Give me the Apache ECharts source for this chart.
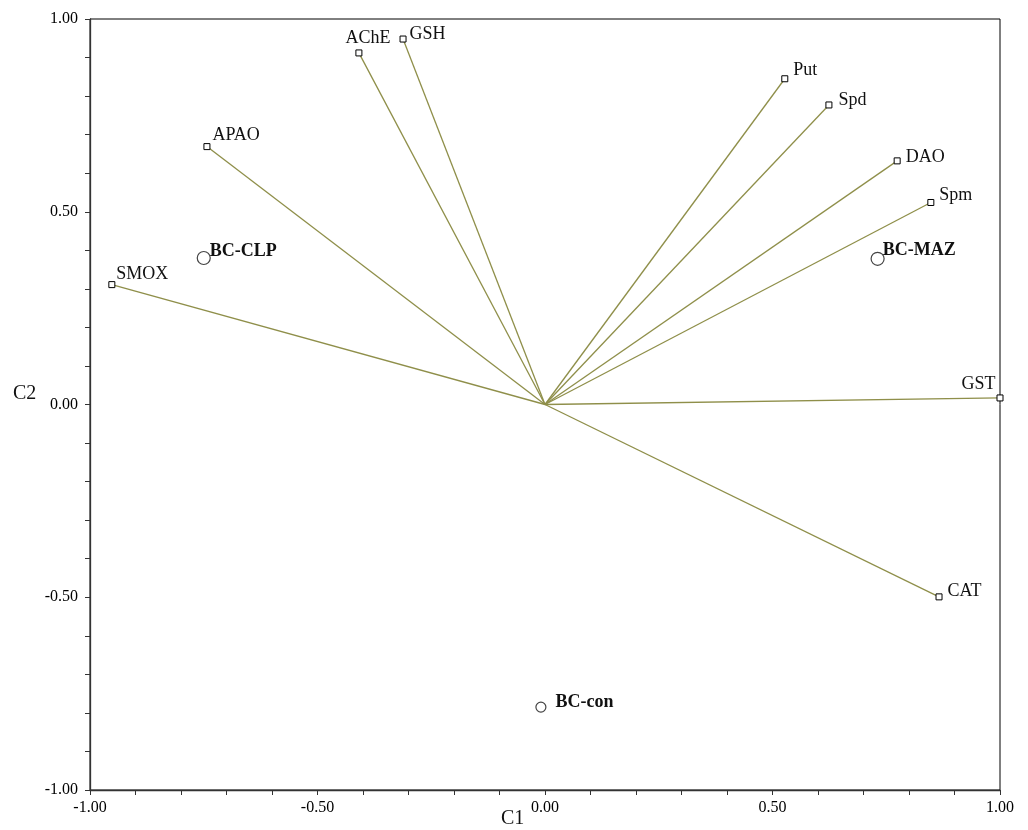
<!DOCTYPE html>
<html>
<head>
<meta charset="utf-8">
<script src="https://cdn.jsdelivr.net/npm/echarts@6/dist/echarts.min.js"></script>
<style>html,body{margin:0;padding:0;background:#fff;}#c{width:1028px;height:830px;}</style>
</head>
<body>
<div id="c"></div>
<script>
// ---- data ----
const varNames = ['AChE', 'GSH', 'Put', 'Spd', 'DAO', 'Spm', 'GST', 'CAT', 'APAO', 'SMOX'];
const varC1 = [-0.409, -0.312, 0.527, 0.624, 0.774, 0.848, 1.000, 0.866, -0.743, -0.952];
const varC2 = [0.912, 0.948, 0.845, 0.777, 0.632, 0.524, 0.017, -0.499, 0.669, 0.311];
const sampleNames = ['BC-CLP', 'BC-MAZ', 'BC-con'];
const sampleC1 = [-0.750, 0.731, -0.009];
const sampleC2 = [0.380, 0.378, -0.785];
const axisTicks = [-1.00, -0.50, 0.00, 0.50, 1.00];
const xTitle = 'C1';
const yTitle = 'C2';

// ---- styling (label placement per name) ----
const labelPlace = {
  'AChE': {position: 'top', offset: [9, 3]},
  'GSH': {position: 'right', offset: [-2, -5]},
  'Put': {position: 'right', offset: [0, -8]},
  'Spd': {position: 'right', offset: [1, -5]},
  'DAO': {position: 'right', offset: [0, -4]},
  'Spm': {position: 'right', offset: [0, -7]},
  'GST': {position: 'left', offset: [4, -14]},
  'CAT': {position: 'right', offset: [0, -6]},
  'APAO': {position: 'right', offset: [-3, -11]},
  'SMOX': {position: 'right', offset: [-4, -10]},
  'BC-CLP': {position: 'right', offset: [-6, -7]},
  'BC-MAZ': {position: 'right', offset: [-7, -8]},
  'BC-con': {position: 'right', offset: [4, -5]}
};
const sampleSize = {'BC-CLP': 13, 'BC-MAZ': 13, 'BC-con': 10};
const FONT = '"Liberation Serif", "Times New Roman", serif';
const olive = '#8f8f4a';

const series = [];
varNames.forEach((n, i) => {
  series.push({
    type: 'line', name: n + '-vec', silent: true, showSymbol: false, symbol: 'none',
    lineStyle: {color: olive, width: 1.3}, z: 1,
    data: [[0, 0], [varC1[i], varC2[i]]]
  });
});
series.push({
  type: 'scatter', name: 'variables', symbol: 'rect', symbolSize: 6, z: 3,
  itemStyle: {color: '#fff', borderColor: '#000', borderWidth: 1, opacity: 1},
  label: {show: true, formatter: p => p.name, fontFamily: FONT, fontSize: 18, color: '#111', distance: 5},
  data: varNames.map((n, i) => ({name: n, value: [varC1[i], varC2[i]], label: labelPlace[n]}))
});
series.push({
  type: 'scatter', name: 'samples', symbol: 'circle', z: 3,
  itemStyle: {color: '#fff', borderColor: '#444', borderWidth: 1.2, opacity: 1},
  label: {show: true, formatter: p => p.name, fontFamily: FONT, fontSize: 18, fontWeight: 'bold', color: '#111', distance: 5},
  data: sampleNames.map((n, i) => ({name: n, value: [sampleC1[i], sampleC2[i]], symbolSize: sampleSize[n], label: labelPlace[n]}))
});

function fmt(v) {
  for (const t of axisTicks) if (Math.abs(v - t) < 1e-6) return t.toFixed(2);
  return '';
}
const axisCommon = {
  type: 'value', min: -1, max: 1, interval: 0.5,
  axisLine: {show: true, onZero: false, lineStyle: {color: '#333', width: 1.3}},
  axisTick: {show: true, inside: false, length: 5, lineStyle: {color: '#333'}},
  minorTick: {show: true, splitNumber: 5, length: 5, lineStyle: {color: '#333'}},
  splitLine: {show: false},
  axisLabel: {formatter: fmt, fontFamily: FONT, fontSize: 16, color: '#000', margin: 12}
};

const chart = echarts.init(document.getElementById('c'), null, {renderer: 'canvas'});
chart.setOption({
  animation: false,
  backgroundColor: '#fff',
  grid: {left: 90, right: 28, top: 19, bottom: 40, show: true, borderColor: '#000', borderWidth: 1, containLabel: false},
  xAxis: Object.assign({}, axisCommon, {axisLabel: Object.assign({}, axisCommon.axisLabel, {margin: 10})}),
  yAxis: Object.assign({}, axisCommon),
  graphic: [
    {type: 'text', left: 501, top: 809, style: {text: xTitle, font: '20px ' + FONT, fill: '#111'}},
    {type: 'text', left: 13, top: 384, style: {text: yTitle, font: '20px ' + FONT, fill: '#111'}}
  ],
  series: series
});
</script>
</body>
</html>
